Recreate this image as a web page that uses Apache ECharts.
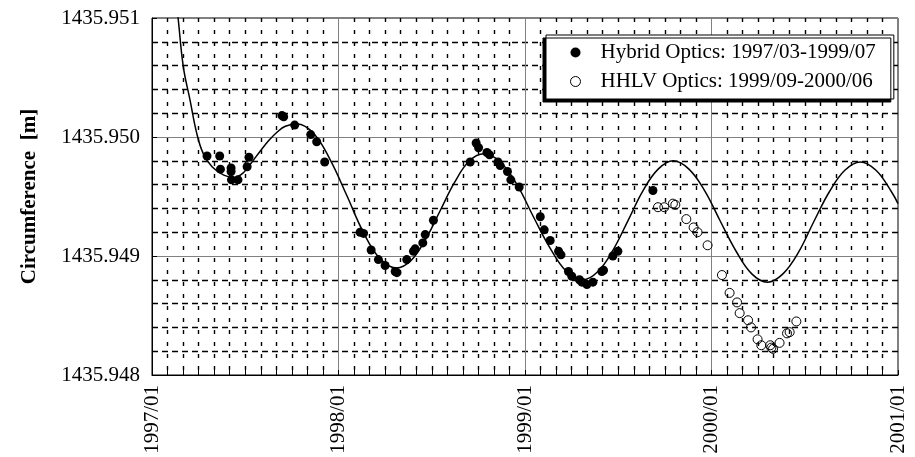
<!DOCTYPE html>
<html>
<head>
<meta charset="utf-8">
<script src="https://cdn.jsdelivr.net/npm/echarts@6/dist/echarts.min.js"></script>
<style>html,body{margin:0;padding:0;background:#fff}#c{width:915px;height:457px}</style>
</head>
<body>
<div id="c"></div>
<script>
// ---- data (years as decimal, circumference in m) ----
var yearTicks = [1997, 1998, 1999, 2000, 2001];
var hybridX = [1997.295,1997.363,1997.367,1997.424,1997.424,1997.426,1997.461,1997.510,1997.520,1997.697,1997.706,1997.765,1997.851,1997.883,1997.926,
  1998.116,1998.134,1998.175,1998.214,1998.250,1998.304,1998.313,1998.366,1998.402,1998.411,1998.452,1998.465,1998.509,
  1998.706,1998.738,1998.751,1998.796,1998.810,1998.855,1998.867,1998.906,1998.924,1998.969,
  1999.082,1999.103,1999.135,1999.180,1999.193,1999.233,1999.251,1999.292,1999.305,1999.332,1999.364,1999.412,1999.421,1999.471,1999.498,1999.686];
var hybridY = [1435.94984,1435.94984,1435.94973,1435.94974,1435.94971,1435.94964,1435.94964,1435.94975,1435.94983,1435.95018,1435.95017,1435.95010,1435.95002,1435.94996,1435.94979,
  1435.94920,1435.94919,1435.94905,1435.94897,1435.94892,1435.94887,1435.94886,1435.94897,1435.94904,1435.94906,1435.94911,1435.94918,1435.94930,
  1435.94979,1435.94995,1435.94991,1435.94987,1435.94985,1435.94979,1435.94976,1435.94971,1435.94964,1435.94958,
  1435.94933,1435.94922,1435.94913,1435.94904,1435.94901,1435.94887,1435.94883,1435.94880,1435.94878,1435.94876,1435.94878,1435.94887,1435.94888,1435.94900,1435.94904,1435.94955];
var hhlvX = [1999.713,1999.747,1999.793,1999.806,1999.865,1999.904,1999.925,1999.979,
  2000.056,2000.097,2000.137,2000.151,2000.196,2000.212,2000.247,2000.267,2000.315,2000.321,2000.330,2000.365,2000.405,2000.419,2000.455];
var hhlvY = [1435.94941,1435.94941,1435.94944,1435.94943,1435.94931,1435.94924,1435.94920,1435.94909,
  1435.94884,1435.94869,1435.94861,1435.94852,1435.94846,1435.94840,1435.94830,1435.94825,1435.94825,1435.94823,1435.94822,1435.94827,1435.94835,1435.94836,1435.94845];
var fitX = [1997.125,1997.140,1997.168,1997.204,1997.240,1997.275,1997.322,1997.385,1997.440,1997.490,1997.536,1997.580,1997.626,1997.670,1997.715,1997.778,
  1997.867,1997.955,1998.044,1998.133,1998.221,1998.310,1998.388,1998.467,1998.545,1998.623,1998.702,1998.780,
  1998.868,1998.957,1999.045,1999.133,1999.222,1999.310,1999.391,1999.472,1999.553,1999.633,1999.714,1999.795,
  1999.879,1999.963,2000.048,2000.132,2000.216,2000.300,2000.383,2000.466,2000.549,2000.632,2000.715,2000.798,2000.882,2000.965,2001.000];
var fitY = [1435.95122,1435.95100,1435.95059,1435.95031,1435.95003,1435.94986,1435.94975,1435.94968,1435.94966,1435.94970,1435.94979,1435.94988,1435.94997,1435.95004,1435.95009,1435.95011,
  1435.95003,1435.94981,1435.94951,1435.94920,1435.94898,1435.94890,1435.94896,1435.94914,1435.94938,1435.94962,1435.94980,1435.94986,
  1435.94979,1435.94960,1435.94933,1435.94907,1435.94887,1435.94880,1435.94887,1435.94905,1435.94930,1435.94955,1435.94973,1435.94980,
  1435.94973,1435.94955,1435.94929,1435.94904,1435.94885,1435.94878,1435.94885,1435.94903,1435.94929,1435.94954,1435.94972,1435.94979,1435.94972,1435.94954,1435.94944];
var seriesNames = ['Hybrid Optics: 1997/03-1999/07', 'HHLV Optics: 1999/09-2000/06'];
var yName = 'Circumference  [m]';

function zip(a, b) { return a.map(function (v, i) { return [v, b[i]]; }); }

var font = 'Liberation Serif, Times New Roman, serif';
var chart = echarts.init(document.getElementById('c'), null, { renderer: 'canvas' });
chart.setOption({
  animation: false,
  backgroundColor: '#fff',
  textStyle: { fontFamily: font, color: '#000' },
  grid: { left: 152, right: 17, top: 18, bottom: 82, show: true, borderColor: '#000', borderWidth: 1, backgroundColor: 'transparent' },
  xAxis: {
    type: 'value', min: yearTicks[0], max: yearTicks[yearTicks.length - 1], interval: 1,
    axisLine: { show: true, lineStyle: { color: '#000', width: 1 } },
    axisTick: { show: true, inside: true, length: 5, lineStyle: { color: '#000' } },
    minorTick: { show: true, splitNumber: 12, length: 5, lineStyle: { color: '#000' } },
    splitLine: { show: true, lineStyle: { color: '#808080', width: 1 } },
    minorSplitLine: { show: true, lineStyle: { color: '#000', width: 1.4, type: [4, 8] } },
    axisLabel: { rotate: 90, fontSize: 21, fontFamily: font, color: '#000', margin: 10,
      formatter: function (v) { return Math.round(v) + '/01'; } }
  },
  yAxis: {
    type: 'value', min: 1435.948, max: 1435.951, interval: 0.001,
    name: yName, nameLocation: 'middle', nameGap: 112, nameRotate: 90,
    nameTextStyle: { fontSize: 21, fontWeight: 'bold', fontFamily: font, color: '#000' },
    axisLine: { show: true, lineStyle: { color: '#000', width: 1 } },
    axisTick: { show: true, inside: true, length: 5, lineStyle: { color: '#000' } },
    minorTick: { show: true, splitNumber: 5, length: 4, lineStyle: { color: '#000' } },
    splitLine: { show: true, lineStyle: { color: '#808080', width: 1 } },
    minorSplitLine: { show: true, lineStyle: { color: '#000', width: 1.4, type: [6, 4] } },
    axisLabel: { fontSize: 21, fontFamily: font, color: '#000', margin: 12,
      formatter: function (v) { return v.toFixed(3); } }
  },
  legend: {
    orient: 'vertical', left: 546, top: 35,
    backgroundColor: '#fff', borderColor: '#000', borderWidth: 1,
    shadowColor: '#000', shadowBlur: 0, shadowOffsetX: -3, shadowOffsetY: 3,
    padding: [7, 18, 7, 24], itemGap: 8, itemWidth: 10, itemHeight: 10,
    textStyle: { fontSize: 21, fontFamily: font, color: '#000', padding: [0, 0, 0, 15] },
    data: [
      { name: seriesNames[0], icon: 'circle', itemStyle: { color: '#000', opacity: 1 } },
      { name: seriesNames[1], icon: 'circle', itemStyle: { color: '#fff', borderColor: '#000', borderWidth: 1, opacity: 1 } }
    ]
  },
  series: [
    { name: 'fit', type: 'line', data: zip(fitX, fitY), showSymbol: false, smooth: 0.4,
      lineStyle: { color: '#000', width: 1.5 }, clip: true, z: 2, silent: true },
    { name: seriesNames[0], type: 'scatter', data: zip(hybridX, hybridY), symbol: 'circle', symbolSize: 9,
      itemStyle: { color: '#000', opacity: 1 }, z: 3 },
    { name: seriesNames[1], type: 'scatter', data: zip(hhlvX, hhlvY), symbol: 'circle', symbolSize: 9,
      itemStyle: { color: 'rgba(255,255,255,0)', borderColor: '#000', borderWidth: 1, opacity: 1 }, z: 3 }
  ]
});
</script>
</body>
</html>
